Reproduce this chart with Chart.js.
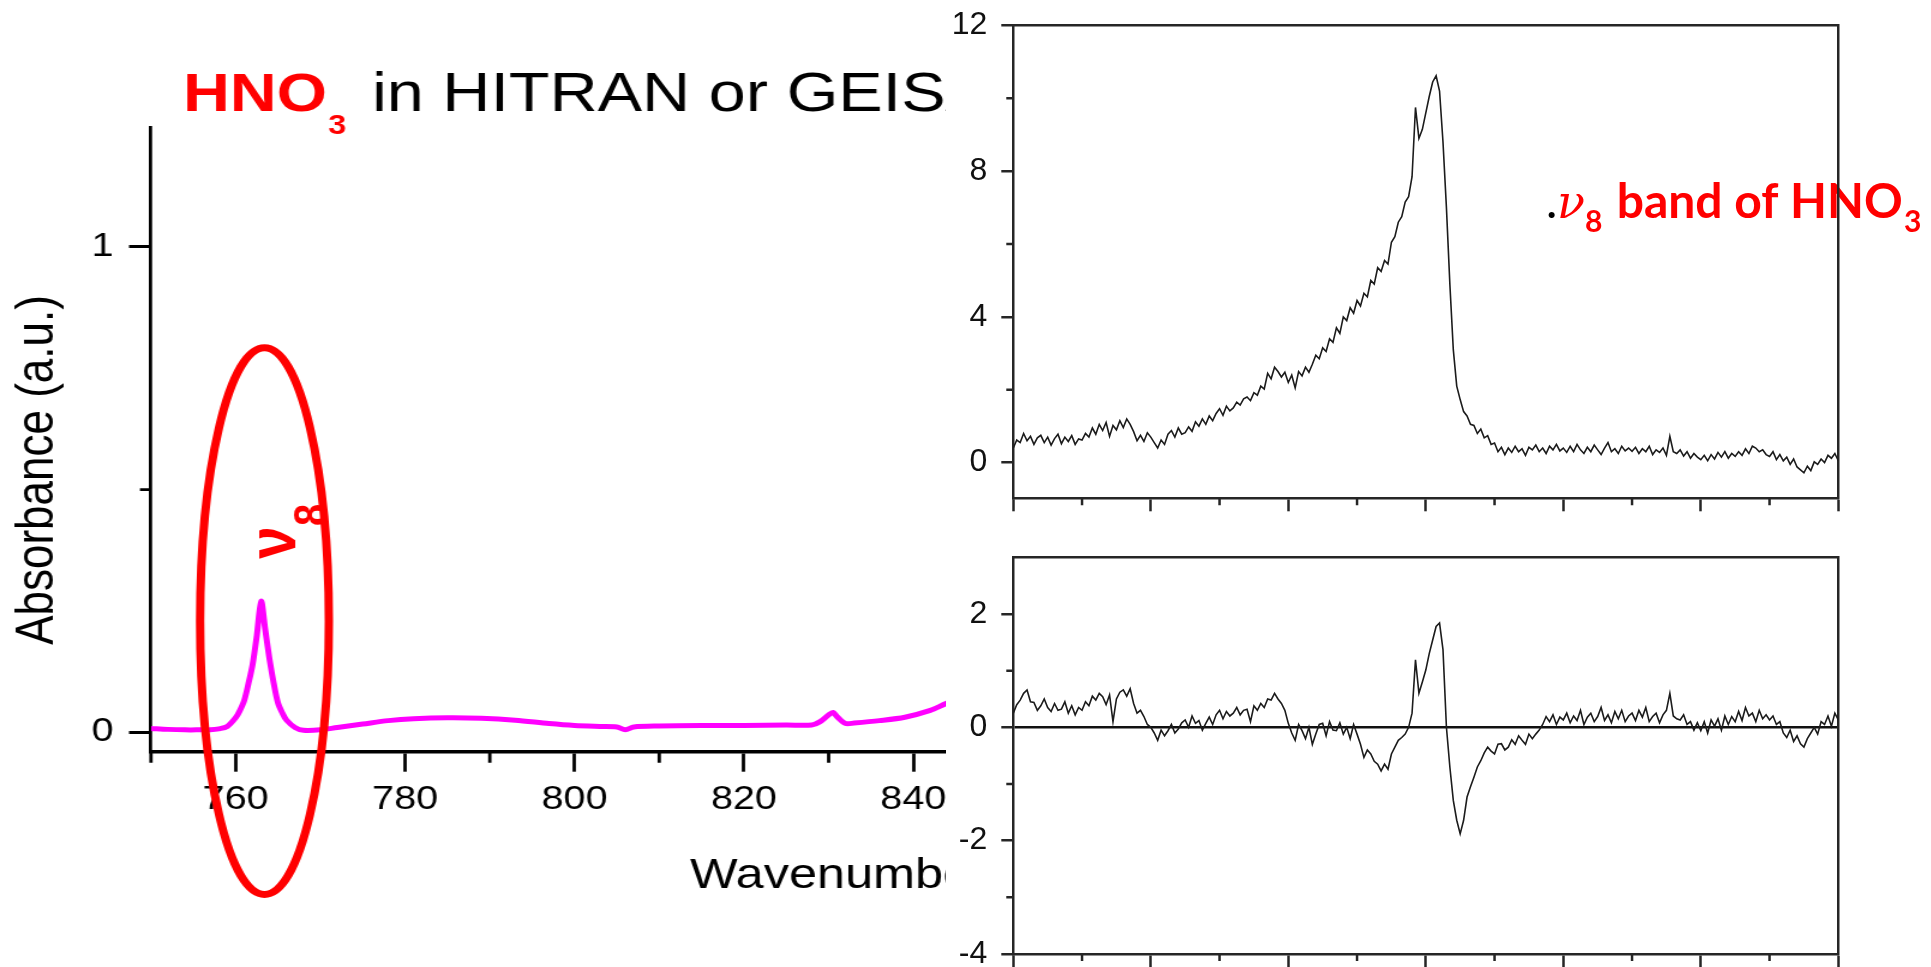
<!DOCTYPE html>
<html>
<head>
<meta charset="utf-8">
<script src="https://cdn.jsdelivr.net/npm/chart.js@4/dist/chart.umd.min.js"></script>
<style>
  html, body { margin: 0; padding: 0; background: #fff; }
  body { width: 1931px; height: 967px; position: relative; overflow: hidden; }
  #leftClip { position: absolute; left: 0; top: 0; width: 946px; height: 967px; overflow: hidden; }
  #leftBox { position: absolute; left: 0; top: 0; width: 877px; height: 967px; transform: scaleX(1.2); transform-origin: 0 0; }
  #topBox { position: absolute; left: 946px; top: 0; width: 985px; height: 520px; }
  #botBox { position: absolute; left: 946px; top: 520px; width: 985px; height: 447px; }
</style>
</head>
<body>
<div id="leftClip"><div id="leftBox"><canvas id="leftChart"></canvas></div></div>
<div id="topBox"><canvas id="topChart"></canvas></div>
<div id="botBox"><canvas id="botChart"></canvas></div>
<script>
'use strict'

//spectre HITRAN / GEISA (gauche)
const wnLeft = [750, 752, 754, 756, 757, 758, 759, 760, 760.5, 761, 761.5, 762, 762.5, 763, 763.5, 764, 764.5, 765, 765.5, 766, 767, 768,
  770, 772, 775, 778, 781, 785, 789, 793, 797, 800, 803, 805, 806, 807, 810, 815, 820, 825, 828, 829, 830, 830.5, 831, 832, 833, 836, 839, 842, 844, 846];
const absLeft = [0.008, 0.006, 0.005, 0.005, 0.005, 0.007, 0.012, 0.030, 0.045, 0.065, 0.10, 0.14, 0.20, 0.27, 0.21, 0.15, 0.10, 0.06, 0.04, 0.025, 0.010, 0.004,
  0.005, 0.010, 0.017, 0.024, 0.028, 0.030, 0.029, 0.025, 0.018, 0.014, 0.012, 0.011, 0.005, 0.011, 0.013, 0.014, 0.014, 0.015, 0.015, 0.022, 0.036, 0.041, 0.032, 0.018, 0.019, 0.024, 0.031, 0.045, 0.060, 0.070];
const leftMajorX = [760, 780, 800, 820, 840];
const leftMinorX = [750, 770, 790, 810, 830, 850];
const leftMajorY = [0, 1];
const leftMinorY = [0.5];

//bande v8 mesurée (droite haut) et résidu (droite bas), un point tous les 0.05
const sampleStep = 0.05;
const bandValues = [
  0.40, 0.62, 0.55, 0.80, 0.60, 0.72, 0.50, 0.68, 0.75, 0.55, 0.70, 0.48, 0.66, 0.78, 0.52, 0.70, 0.58, 0.74, 0.50, 0.65,
  0.62, 0.80, 0.70, 0.95, 0.78, 1.05, 0.88, 1.10, 0.72, 1.02, 0.90, 1.15, 0.96, 1.20, 1.05, 0.85, 0.60, 0.75, 0.58, 0.82,
  0.70, 0.55, 0.40, 0.62, 0.50, 0.78, 0.88, 0.70, 0.95, 0.78, 0.82, 0.98, 0.86, 1.12, 1.00, 1.20, 1.05, 1.28, 1.15, 1.35,
  1.48, 1.30, 1.55, 1.42, 1.50, 1.66, 1.58, 1.75, 1.80, 1.70, 1.92, 1.85, 2.10, 2.02, 2.45, 2.30, 2.62, 2.50, 2.35, 2.48,
  2.20, 2.40, 2.05, 2.50, 2.38, 2.62, 2.48, 2.70, 2.95, 2.85, 3.15, 3.05, 3.40, 3.30, 3.70, 3.55, 4.00, 3.90, 4.25, 4.10,
  4.45, 4.30, 4.65, 4.55, 5.00, 4.90, 5.35, 5.25, 5.55, 5.45, 6.05, 6.20, 6.60, 6.75, 7.15, 7.30, 7.85, 9.75, 8.90, 9.15,
  9.60, 10.05, 10.45, 10.62, 10.20, 8.80, 7.00, 4.90, 3.10, 2.10, 1.73, 1.40, 1.28, 1.05, 1.02, 0.80, 0.92, 0.68, 0.74, 0.50,
  0.54, 0.30, 0.42, 0.22, 0.40, 0.28, 0.45, 0.30, 0.38, 0.20, 0.42, 0.35, 0.48, 0.30, 0.40, 0.25, 0.45, 0.35, 0.50, 0.32,
  0.40, 0.28, 0.45, 0.30, 0.50, 0.35, 0.25, 0.42, 0.30, 0.48, 0.35, 0.22, 0.40, 0.55, 0.30, 0.38, 0.25, 0.45, 0.32, 0.40,
  0.31, 0.42, 0.25, 0.38, 0.30, 0.45, 0.22, 0.35, 0.28, 0.40, 0.20, 0.72, 0.30, 0.25, 0.35, 0.18, 0.30, 0.12, 0.25, 0.15,
  0.08, 0.20, 0.05, 0.22, 0.10, 0.28, 0.15, 0.30, 0.12, 0.25, 0.17, 0.30, 0.20, 0.38, 0.25, 0.45, 0.40, 0.30, 0.35, 0.22,
  0.17, 0.30, 0.08, 0.22, 0.05, 0.15, -0.05, 0.10, -0.12, -0.20, -0.28, -0.10, -0.22, 0.02, -0.05, 0.10, 0.00, 0.20, 0.12, 0.25,
  0.05
];
const residValues = [
  0.25, 0.40, 0.48, 0.60, 0.66, 0.45, 0.44, 0.30, 0.38, 0.50, 0.35, 0.28, 0.42, 0.30, 0.32, 0.45, 0.25, 0.38, 0.22, 0.35,
  0.30, 0.45, 0.38, 0.55, 0.48, 0.60, 0.54, 0.40, 0.57, 0.10, 0.50, 0.62, 0.66, 0.55, 0.68, 0.42, 0.25, 0.30, 0.19, 0.05,
  0.00, -0.10, -0.23, -0.05, -0.15, -0.06, 0.05, -0.10, -0.03, 0.08, 0.13, 0.00, 0.20, 0.07, 0.12, -0.05, 0.07, 0.18, 0.05, 0.22,
  0.30, 0.15, 0.28, 0.20, 0.25, 0.35, 0.22, 0.30, 0.32, 0.10, 0.38, 0.30, 0.42, 0.35, 0.50, 0.48, 0.60, 0.50, 0.42, 0.30,
  0.07, -0.10, -0.23, 0.05, -0.06, -0.20, 0.00, -0.30, -0.12, 0.05, 0.07, -0.15, 0.10, -0.05, -0.06, 0.08, -0.12, 0.00, -0.20, 0.05,
  -0.12, -0.30, -0.53, -0.40, -0.47, -0.60, -0.65, -0.77, -0.65, -0.74, -0.47, -0.35, -0.23, -0.18, -0.12, 0.00, 0.25, 1.19, 0.60, 0.80,
  1.01, 1.30, 1.54, 1.78, 1.84, 1.37, 0.00, -0.70, -1.29, -1.64, -1.88, -1.64, -1.23, -1.05, -0.88, -0.70, -0.59, -0.45, -0.35, -0.42,
  -0.47, -0.30, -0.29, -0.40, -0.35, -0.22, -0.30, -0.15, -0.23, -0.30, -0.12, -0.20, -0.12, -0.05, 0.05, 0.19, 0.10, 0.22, 0.05, 0.18,
  0.13, 0.25, 0.08, 0.20, 0.12, 0.30, 0.05, 0.18, 0.25, 0.10, 0.19, 0.35, 0.12, 0.22, 0.08, 0.28, 0.15, 0.30, 0.10, 0.20,
  0.25, 0.12, 0.30, 0.18, 0.35, 0.10, 0.19, 0.25, 0.08, 0.22, 0.30, 0.60, 0.20, 0.15, 0.13, 0.22, 0.05, 0.10, -0.05, 0.08,
  -0.06, 0.10, -0.10, 0.13, 0.02, 0.15, -0.05, 0.20, 0.05, 0.19, 0.10, 0.28, 0.12, 0.35, 0.20, 0.25, 0.10, 0.30, 0.15, 0.22,
  0.13, 0.20, 0.05, 0.10, -0.10, -0.18, -0.05, -0.25, -0.15, -0.29, -0.35, -0.20, -0.10, 0.00, -0.12, 0.10, 0.05, 0.20, 0.02, 0.25,
  0.13
];
const rightMajorX = [0, 2, 4, 6, 8, 10, 12];
const rightMinorX = [1, 3, 5, 7, 9, 11];
const bandMajorY = [0, 4, 8, 12];
const bandMinorY = [2, 6, 10];
const residMajorY = [-4, -2, 0, 2];
const residMinorY = [-3, -1, 1];

//ellipse rouge autour de la bande v8 (en unités des axes)
const ring = { x: 763.4, y: 0.229, rx: 7.6, ry: 0.563 };

Chart.defaults.font.family = '"Liberation Sans", Arial, sans-serif';
Chart.defaults.color = '#000';

//petites graduations secondaires
const minorTicks =
{
  id: 'minorTicks',
  afterDraw( chart, args, opts )
  {
    const ctx = chart.ctx;
    const xs = chart.scales.x;
    const ys = chart.scales.y;
    ctx.save();
    ctx.strokeStyle = opts.color;
    ctx.lineWidth = opts.width;
    ctx.beginPath();
    opts.x.forEach( v =>
    {
      const px = xs.getPixelForValue( v );
      ctx.moveTo( px, xs.top );
      ctx.lineTo( px, xs.top + opts.xLen );
    });
    opts.y.forEach( v =>
    {
      const py = ys.getPixelForValue( v );
      ctx.moveTo( ys.right, py );
      ctx.lineTo( ys.right - opts.yLen, py );
    });
    ctx.stroke();
    ctx.restore();
  }
};

//sans marge automatique des axes
function noPad( axis )
{
  axis.paddingTop = 0;
  axis.paddingBottom = 0;
  axis.paddingLeft = 0;
  axis.paddingRight = 0;
}

//titre, titres d'axes, ellipse et v8 du graphe de gauche
const leftDecor =
{
  id: 'leftDecor',
  afterDraw( chart )
  {
    const ctx = chart.ctx;
    const xs = chart.scales.x;
    const ys = chart.scales.y;
    ctx.save();
    ctx.textAlign = 'left';
    ctx.textBaseline = 'alphabetic';

    ctx.fillStyle = '#ff0000';
    ctx.font = 'bold 54px "Liberation Sans"';
    ctx.fillText( 'HNO', 152.5, 110.7 );
    const hnoW = ctx.measureText( 'HNO' ).width;
    ctx.font = 'bold 27px "Liberation Sans"';
    ctx.fillText( '3', 152.5 + hnoW + 1, 134 );
    ctx.fillStyle = '#000';
    ctx.font = '55.5px "Liberation Sans"';
    ctx.fillText( 'in HITRAN or GEISA', 310, 110.7 );

    ctx.font = '42px "Liberation Sans"';
    ctx.fillText( 'Wavenumber (cm-1)', 575, 888 );

    ctx.save();
    ctx.translate( 32, 470 );
    ctx.rotate( -Math.PI / 2 );
    ctx.textAlign = 'center';
    ctx.textBaseline = 'middle';
    ctx.font = '44px "Liberation Sans"';
    ctx.fillText( 'Absorbance (a.u.)', 0, 0 );
    ctx.restore();

    //ellipse
    const cx = xs.getPixelForValue( ring.x );
    const cy = ys.getPixelForValue( ring.y );
    const rx = xs.getPixelForValue( ring.x + ring.rx ) - cx;
    const ry = cy - ys.getPixelForValue( ring.y + ring.ry );
    ctx.strokeStyle = '#ff0000';
    ctx.lineWidth = 7;
    ctx.beginPath();
    ctx.ellipse( cx, cy, rx, ry, 0, 0, Math.PI * 2 );
    ctx.stroke();

    //v8 vertical
    ctx.fillStyle = '#ff0000';
    ctx.textAlign = 'center';
    ctx.textBaseline = 'alphabetic';
    ctx.save();
    ctx.translate( 245.8, 542.5 );
    ctx.rotate( -Math.PI / 2 );
    ctx.font = 'bold 58px "Liberation Sans"';
    ctx.fillText( 'ν', 0, 0 );
    ctx.restore();
    ctx.save();
    ctx.translate( 272.5, 515 );
    ctx.rotate( -Math.PI / 2 );
    ctx.font = 'bold 40px "Liberation Sans"';
    ctx.fillText( '8', 0, 0 );
    ctx.restore();

    ctx.restore();
  }
};

//étiquette ".v8 band of HNO3"
const bandLabel =
{
  id: 'bandLabel',
  beforeDraw( chart )
  {
    const ctx = chart.ctx;
    ctx.save();
    ctx.textAlign = 'left';
    ctx.textBaseline = 'alphabetic';
    ctx.fillStyle = '#000';
    ctx.font = '48px Lato';
    ctx.fillText( '.', 600, 218 );
    ctx.fillStyle = '#ff0000';
    ctx.font = 'italic 46px "DejaVu Serif"';
    ctx.fillText( 'ν', 611, 218 );
    ctx.font = 'bold 30px Lato';
    ctx.fillText( '8', 639, 232 );
    ctx.font = 'bold 48px Lato';
    ctx.fillText( 'band of HNO', 670.7, 218 );
    const w = ctx.measureText( 'band of HNO' ).width;
    ctx.font = 'bold 30px Lato';
    ctx.fillText( '3', 670.7 + w + 1, 232 );
    ctx.restore();
  }
};

//graphe de gauche
new Chart( document.getElementById( 'leftChart' ),
{
  type: 'line',
  data:
  {
    datasets:
    [
      {
        data: wnLeft.map( ( x, i ) => ( { x: x, y: absLeft[ i ] } ) ),
        borderColor: '#ff00ff',
        borderWidth: 5,
        pointRadius: 0,
        tension: 0.3,
        fill: false
      }
    ]
  },
  options:
  {
    responsive: true,
    maintainAspectRatio: false,
    animation: false,
    devicePixelRatio: 1,
    layout: { padding: { top: 127, right: 10, left: 0, bottom: 0 } },
    plugins:
    {
      legend: { display: false },
      tooltip: { enabled: false },
      minorTicks: { x: leftMinorX, y: leftMinorY, xLen: 11, yLen: 9.2, color: '#000', width: 2.8 }
    },
    scales:
    {
      x:
      {
        type: 'linear',
        min: 750,
        max: 855,
        afterBuildTicks: axis => { axis.ticks = leftMajorX.map( v => ( { value: v } ) ); },
        afterFit: axis => { axis.height = 215.3; noPad( axis ); },
        ticks: { padding: 8, font: { size: 33 }, color: '#000', maxRotation: 0 },
        grid: { drawOnChartArea: false, tickLength: 20, tickWidth: 2.8, tickColor: '#000' },
        border: { color: '#000', width: 3.5 }
      },
      y:
      {
        min: -0.04,
        max: 1.247,
        afterBuildTicks: axis => { axis.ticks = leftMajorY.map( v => ( { value: v } ) ); },
        afterFit: axis => { axis.width = 125.8; noPad( axis ); },
        ticks: { padding: 13, font: { size: 33 }, color: '#000' },
        grid: { drawOnChartArea: false, tickLength: 18.3, tickWidth: 3, tickColor: '#000' },
        border: { color: '#000', width: 2.75 }
      }
    }
  },
  plugins: [ minorTicks, leftDecor ]
});

//graphes de droite
const frameColor = '#262626';

function rightChart( canvasId, values, yMin, yMax, yMajor, yMinor, padTop, xAxisHeight, zeroLine, extra )
{
  return new Chart( document.getElementById( canvasId ),
  {
    type: 'line',
    data:
    {
      datasets:
      [
        {
          data: values.map( ( v, i ) => ( { x: i * sampleStep, y: v } ) ),
          borderColor: '#1c1c1c',
          borderWidth: 1.6,
          pointRadius: 0,
          tension: 0,
          fill: false
        }
      ]
    },
    options:
    {
      responsive: true,
      maintainAspectRatio: false,
      animation: false,
      devicePixelRatio: 1,
      layout: { padding: { top: padTop, right: 92.7, left: 0, bottom: 0 } },
      plugins:
      {
        legend: { display: false },
        tooltip: { enabled: false },
        minorTicks: { x: rightMinorX, y: yMinor, xLen: 7, yLen: 7, color: frameColor, width: 2.5 }
      },
      scales:
      {
        x:
        {
          type: 'linear',
          min: 0,
          max: 12,
          afterBuildTicks: axis => { axis.ticks = rightMajorX.map( v => ( { value: v } ) ); },
          afterFit: axis => { axis.height = xAxisHeight; noPad( axis ); },
          ticks: { display: false },
          grid: { drawOnChartArea: false, tickLength: 13, tickWidth: 2.5, tickColor: frameColor },
          border: { color: frameColor, width: 2.5 }
        },
        y:
        {
          min: yMin,
          max: yMax,
          afterBuildTicks: axis => { axis.ticks = yMajor.map( v => ( { value: v } ) ); },
          afterFit: axis => { axis.width = 67.3; noPad( axis ); },
          ticks: { padding: 14, font: { size: 32 }, color: '#111' },
          grid:
          {
            drawOnChartArea: zeroLine,
            color: c => ( c.tick && c.tick.value === 0 ) ? '#111' : 'rgba(0,0,0,0)',
            lineWidth: 2.5,
            tickLength: 12,
            tickWidth: 2.5,
            tickColor: frameColor
          },
          border: { color: frameColor, width: 2.5 }
        },
        x2:
        {
          type: 'linear',
          position: 'top',
          afterFit: axis => { axis.height = 0; noPad( axis ); },
          ticks: { display: false },
          grid: { drawOnChartArea: false, drawTicks: false },
          border: { color: frameColor, width: 2.5 }
        },
        y2:
        {
          type: 'linear',
          position: 'right',
          afterFit: axis => { axis.width = 0; noPad( axis ); },
          ticks: { display: false },
          grid: { drawOnChartArea: false, drawTicks: false },
          border: { color: frameColor, width: 2.5 }
        }
      }
    },
    plugins: [ minorTicks ].concat( extra )
  });
}

rightChart( 'topChart', bandValues, -0.98, 12, bandMajorY, bandMinorY, 25.5, 21.7, false, [ bandLabel ] );
rightChart( 'botChart', residValues, -4, 3, residMajorY, residMinorY, 37.3, 13, true, [] );
</script>
</body>
</html>
